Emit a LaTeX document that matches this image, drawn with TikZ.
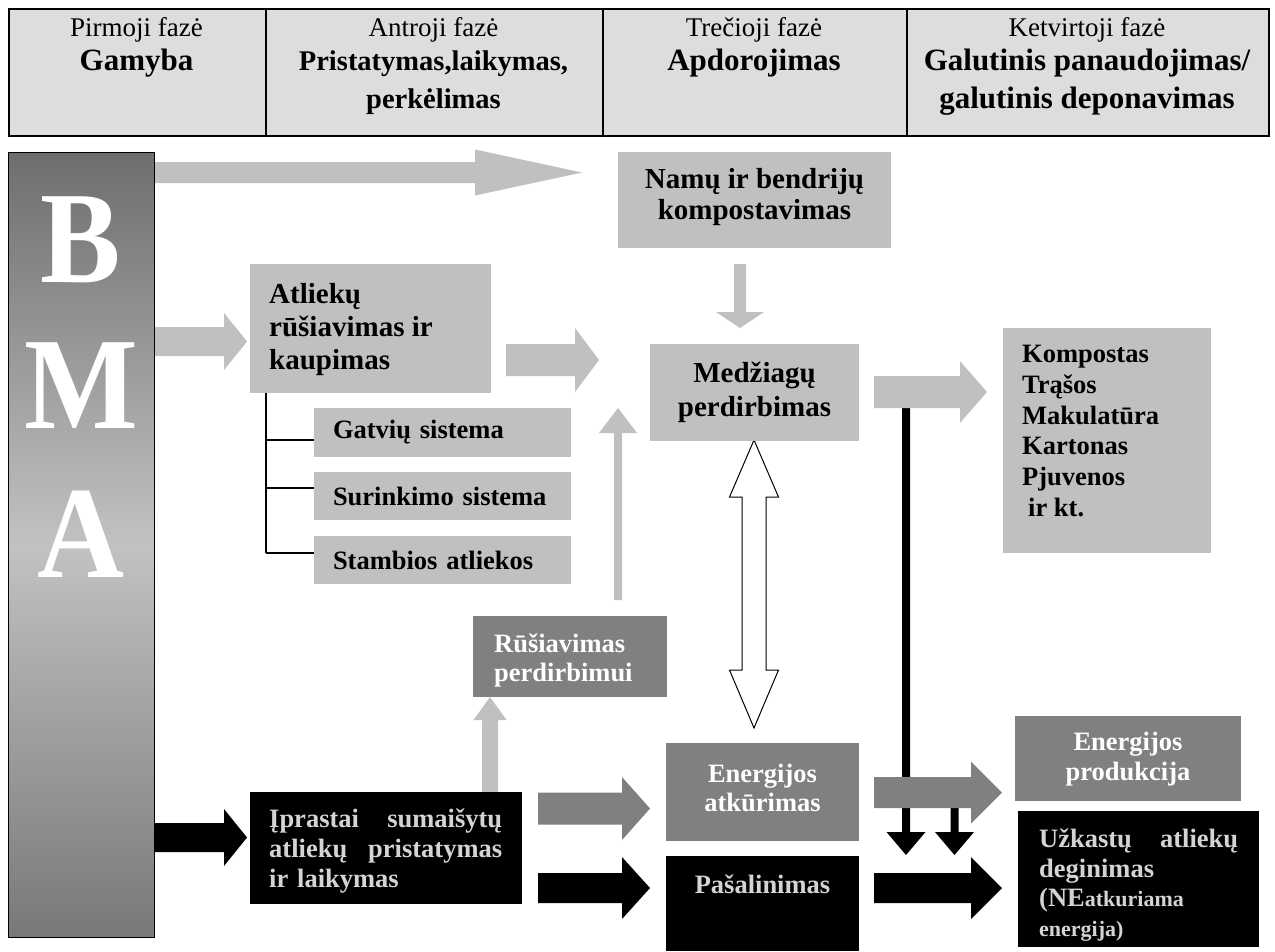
\documentclass[tikz,border=0pt]{standalone}
\usepackage{fontspec}
\setmainfont{Liberation Serif}
\newfontfamily\bigletters[FakeStretch=0.92]{Liberation Serif}
\usetikzlibrary{calc}
\definecolor{lg}{HTML}{C0C0C0}
\definecolor{dg}{HTML}{808080}
\definecolor{hdfill}{HTML}{DDDDDD}
\definecolor{paletxt}{HTML}{D4D4D4}
\definecolor{bartop}{HTML}{6E6E6E}
\definecolor{barmid}{HTML}{C2C2C2}
\definecolor{barbot}{HTML}{787878}
% block arrows: style, start, tip, axis, shaft half, head half, head length
\newcommand\rarrow[7]{\fill[#1] (#2,#4-#5) -- (#3-#7,#4-#5) -- (#3-#7,#4-#6) -- (#3,#4) -- (#3-#7,#4+#6) -- (#3-#7,#4+#5) -- (#2,#4+#5) -- cycle;}
\newcommand\darrow[7]{\fill[#1] (#2-#5,#3) -- (#2-#5,#4-#7) -- (#2-#6,#4-#7) -- (#2,#4) -- (#2+#6,#4-#7) -- (#2+#5,#4-#7) -- (#2+#5,#3) -- cycle;}
\newcommand\uarrow[7]{\fill[#1] (#2-#5,#3) -- (#2-#5,#4+#7) -- (#2-#6,#4+#7) -- (#2,#4) -- (#2+#6,#4+#7) -- (#2+#5,#4+#7) -- (#2+#5,#3) -- cycle;}
\tikzset{
  sz/.style 2 args={minimum width=#1, minimum height=#2},
  hcell/.style={draw=black, line width=1.5pt, fill=hdfill, inner sep=0pt, anchor=north west},
  hreg/.style={anchor=base, inner sep=0pt, font=\fontsize{27}{36}\selectfont},
  hbold/.style={anchor=base, inner sep=0pt, font=\bfseries\fontsize{31}{36}\selectfont},
  hboldb/.style={anchor=base, inner sep=0pt, font=\bfseries\fontsize{28.5}{36}\selectfont},
  lbox/.style={fill=lg, inner sep=0pt, outer sep=0pt, anchor=north west},
  dbox/.style={fill=dg, inner sep=0pt, outer sep=0pt, anchor=north west},
  bbox/.style={fill=black, inner sep=0pt, outer sep=0pt, anchor=north west},
  bigtxt/.style={inner sep=0pt, font=\bfseries\fontsize{29}{33}\selectfont},
  midtxt/.style={inner sep=0pt, font=\bfseries\fontsize{26.5}{30}\selectfont},
  onlbox/.style={inner xsep=19, inner ysep=0pt, align=left, font=\bfseries\fontsize{26.5}{30}\selectfont},
  bmaltr/.style={anchor=base, inner sep=0pt, text=white, font=\bigletters\bfseries\fontsize{131}{131}\selectfont},
  tree/.style={line width=2pt},
}
\begin{document}
\begin{tikzpicture}[x=1pt,y=-1pt]
\useasboundingbox (0,0) rectangle (1275,951);
\fill[white] (0,0) rectangle (1275,951);

% ---------- header ----------
\node[hcell, sz={257}{127}] (h1) at (8,8) {};
\node[hcell, sz={337}{127}] (h2) at (265,8) {};
\node[hcell, sz={304}{127}] (h3) at (602,8) {};
\node[hcell, sz={362}{127}] (h4) at (906,8) {};
\node[hreg] (t11) at (136.5,36) {Pirmoji fazė};
\node[hbold] (t12) at (136.5,70) {Gamyba};
\node[hreg] (t21) at (433.5,36) {Antroji fazė};
\node[hboldb] (t22) at (433.5,70) {Pristatymas,laikymas,};
\node[hboldb] (t23) at (433.5,108) {perkėlimas};
\node[hreg] (t31) at (754,36) {Trečioji fazė};
\node[hbold] (t32) at (754,70) {Apdorojimas};
\node[hreg] (t41) at (1087,36) {Ketvirtoji fazė};
\node[hbold] (t42) at (1087,70) {Galutinis panaudojimas/};
\node[hbold] (t43) at (1087,108) {galutinis deponavimas};

% ---------- BMA bar ----------
\node[draw=black, line width=1pt, inner sep=0pt, anchor=north west, sz={146}{785},
      top color=bartop, bottom color=barbot, middle color=barmid] (bma) at (8,152) {};
\node[bmaltr] (lb) at (81,282) {B};
\node[bmaltr] (lm) at (81,428) {M};
\node[bmaltr] (la) at (81,577) {A};

% ---------- black vertical arrows (behind the grey ones) ----------
\darrow{black}{906}{392}{855}{4}{19.5}{23}
\darrow{black}{954.5}{792}{855}{4}{19.5}{23}

% ---------- block arrows ----------
\rarrow{lg}{155}{582}{172.5}{10.5}{23}{107}
\rarrow{lg}{155}{247}{341.5}{14.5}{28.5}{23}
\rarrow{lg}{506}{599}{360}{16}{32}{24}
\darrow{lg}{740}{264}{328}{6}{24}{16}
\rarrow{lg}{874}{987}{392}{16}{31}{27}
\uarrow{lg}{618}{600}{408}{4}{19}{25}
\uarrow{lg}{490}{792}{697}{8}{16.5}{23}
\rarrow{black}{155}{247}{837.5}{14.5}{28.5}{23}
\rarrow{dg}{538}{650}{808.5}{16}{31.5}{28}
\rarrow{black}{538}{650}{888}{15}{31}{28}
\rarrow{dg}{874}{1002}{792.5}{15.5}{31}{31}
\rarrow{black}{874}{1002}{888}{15}{31}{31}
% white double arrow
\draw[fill=white, line width=1pt, line join=miter]
  (754,440) -- (778.5,497) -- (766,497) -- (766,670) -- (778.5,670) -- (754,728)
  -- (729.5,670) -- (742,670) -- (742,497) -- (729.5,497) -- cycle;

% ---------- boxes ----------
\node[lbox, sz={273}{96}] (namu) at (618,152) {};
\node[bigtxt, anchor=north, align=center, font=\bfseries\fontsize{29}{31}\selectfont] (namut) at (754.5,168) {Namų ir bendrijų\\kompostavimas};

\node[lbox, sz={241}{129}] (atl) at (250,264) {};
\node[bigtxt, anchor=north west, align=left] (atlt) at (269,283) {Atliekų\\rūšiavimas ir\\kaupimas};

\node[lbox, sz={209}{97}] (medz) at (650,344) {};
\node[bigtxt, anchor=north, align=center, font=\bfseries\fontsize{29}{34}\selectfont] (medzt) at (754.5,362) {Medžiagų\\perdirbimas};

\node[lbox, sz={208}{225}] (komp) at (1003,328) {};
\node[midtxt, anchor=north west, align=left, font=\bfseries\fontsize{26.5}{30.8}\selectfont] (kompt) at (1022,345) {Kompostas\\Trąšos\\Makulatūra\\Kartonas\\Pjuvenos\\\hspace*{6pt}ir kt.};

\node[lbox, onlbox, sz={257}{49}, text width=219] (gatv) at (314,408) {Gatvių sistema};
\node[lbox, onlbox, sz={257}{48}, text width=219] (surink) at (314,472) {Surinkimo sistema};
\node[lbox, onlbox, sz={257}{48}, text width=219] (stamb) at (314,536) {Stambios atliekos};

\draw[tree] ([xshift=16]atl.south west) -- (266,553);
\draw[tree] (266,440) -- (gatv.west |- 266,440);
\draw[tree] (266,488) -- (surink.west |- 266,488);
\draw[tree] (266,553) -- (stamb.west |- 266,553);

\node[dbox, sz={194}{81}] (rusi) at (473,616) {};
\node[midtxt, text=white, anchor=north west, align=left, font=\bfseries\fontsize{26.5}{28.5}\selectfont] (rusit) at (494,634) {Rūšiavimas\\perdirbimui};

\node[bbox, sz={272}{112}] (ipr) at (250,792) {};
\node[midtxt, text=paletxt, anchor=north west, align=left, text width=233] (iprt) at (269,809) {Įprastai\hfill sumaišytų\\atliekų\hfill pristatymas\\ir laikymas};

\node[dbox, sz={193}{98}] (enat) at (666,743) {};
\node[midtxt, text=white, anchor=north, align=center, font=\bfseries\fontsize{26.5}{29}\selectfont] (enatt) at (762.5,764) {Energijos\\atkūrimas};

\node[bbox, sz={193}{95}] (pasal) at (666,856) {};
\node[midtxt, text=paletxt, anchor=base] (pasalt) at (762.5,893) {Pašalinimas};

\node[dbox, sz={226}{85}] (enpr) at (1015,716) {};
\node[midtxt, text=white, anchor=north, align=center] (enprt) at (1128,732) {Energijos\\produkcija};

\node[bbox, sz={241}{136}] (uzk) at (1018,811) {};
\node[midtxt, text=paletxt, anchor=north west, align=left, text width=199, font=\bfseries\fontsize{26.5}{29.5}\selectfont] (uzkt) at (1039,829) {Užkastų\hfill atliekų\\deginimas\\(NE{\fontsize{22}{29.5}\selectfont atkuriama}\\{\fontsize{22}{29.5}\selectfont energija)}};
\end{tikzpicture}
\end{document}
